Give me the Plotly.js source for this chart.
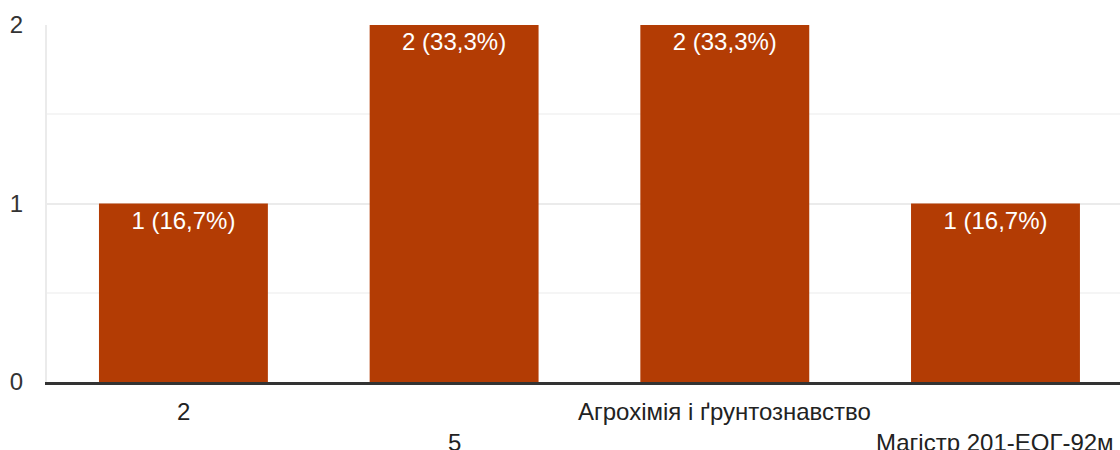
<!DOCTYPE html>
<html>
<head>
<meta charset="utf-8">
<script src="https://cdn.plot.ly/plotly-3.0.1.min.js"></script>
<style>html,body{margin:0;padding:0;overflow:hidden;background:#fff}#chart{width:1120px;height:450px}</style>
</head>
<body>
<div id="chart"></div>
<script>
const categories = ["2", "5", "Агрохімія і ґрунтознавство", "Магістр 201-ЕОГ-92м"];
const counts = [1, 2, 2, 1];
const barLabels = ["1 (16,7%)", "2 (33,3%)", "2 (33,3%)", "1 (16,7%)"];
const tickRow = [0, 1, 0, 1];
const yTicks = [0, 1, 2];

const FONT = 'Liberation Sans, Arial, sans-serif';

const trace = {
  type: 'bar',
  x: categories,
  y: counts,
  text: barLabels,
  textposition: 'inside',
  insidetextanchor: 'end',
  textangle: 0,
  textfont: {family: FONT, size: 24, color: '#ffffff'},
  marker: {color: '#b33c04'},
  hoverinfo: 'none',
  cliponaxis: false
};

const annotations = categories.map((c, i) => ({
  x: i, xref: 'x', y: 0, yref: 'y',
  text: c, showarrow: false,
  xanchor: 'center', yanchor: 'middle',
  yshift: tickRow[i] === 0 ? -29 : -60,
  font: {family: FONT, size: 24, color: '#222222'}
}));

const layout = {
  width: 1120, height: 450,
  margin: {l: 47, r: 0, t: 25, b: 68},
  paper_bgcolor: '#ffffff', plot_bgcolor: '#ffffff',
  bargap: 0.376,
  showlegend: false,
  font: {family: FONT, size: 24, color: '#333333'},
  xaxis: {
    type: 'category',
    range: [-0.504, 3.46],
    showticklabels: false,
    ticks: '',
    showgrid: false,
    showline: true, linecolor: '#333333', linewidth: 2.5,
    zeroline: false, fixedrange: true
  },
  yaxis: {
    range: [0, 2],
    tickvals: yTicks,
    ticktext: yTicks.map(String),
    ticks: '',
    ticklabelstandoff: 17,
    tickfont: {family: FONT, size: 24, color: '#333333'},
    showgrid: true, gridcolor: '#ebebeb', gridwidth: 2,
    minor: {dtick: 0.5, showgrid: true, gridcolor: '#f5f5f5', gridwidth: 2, ticks: ''},
    showline: true, linecolor: '#ebebeb', linewidth: 2,
    zeroline: false, fixedrange: true
  },
  annotations: annotations
};

Plotly.newPlot('chart', [trace], layout, {displayModeBar: false, staticPlot: true});
</script>
</body>
</html>
